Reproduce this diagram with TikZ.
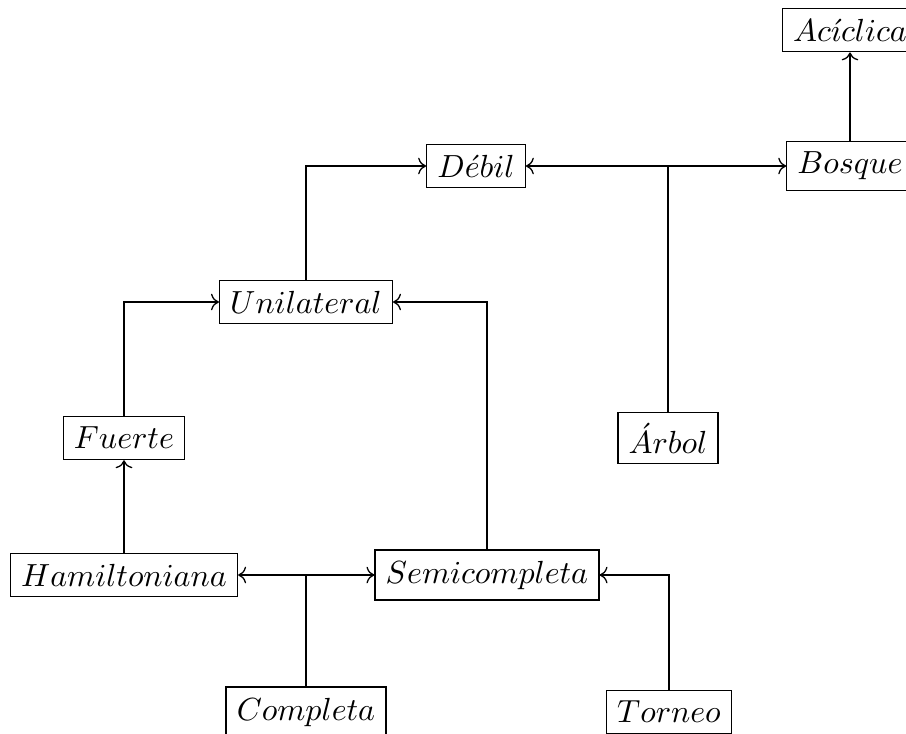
\documentclass[tikz,border=0pt]{standalone}
\usetikzlibrary{arrows.meta}
\begin{document}
\begin{tikzpicture}[x=0.3125pt, y=-0.3125pt,
    box/.style={draw, line width=0.4pt, font=\normalsize},
    conn/.style={->, line width=0.4pt}]
  \useasboundingbox (0,0) rectangle (906,734);
  \clip (0,0) rectangle (906,734);

  % graph classes
  \node[box] (aciclica)  at (850,30)  {$Ac\acute{\imath}clica$};
  \node[box] (bosque)    at (850,166) {$Bosque$};
  \node[box] (debil)     at (476,166) {$D\acute{e}bil$};
  \node[box] (arbol)     at (668,438) {$\acute{A}rbol$};
  \node[box] (unilateral) at (306,302) {$Unilateral$};
  \node[box] (fuerte)    at (124,438) {$Fuerte$};
  \node[box] (hamilt)    at (124,575) {$Hamiltoniana$};
  \node[box] (semicomp)  at (487,575) {$Semicompleta$};
  \node[box] (completa)  at (306,712) {$Completa$};
  \node[box] (torneo)    at (669,712) {$Torneo$};

  % inclusions
  \draw[conn] (bosque) -- (aciclica);
  \draw[conn] (arbol) |- (debil);
  \draw[conn] (arbol) |- (bosque);
  \draw[conn] (unilateral) |- (debil);
  \draw[conn] (fuerte) |- (unilateral);
  \draw[conn] (semicomp) |- (unilateral);
  \draw[conn] (hamilt) -- (fuerte);
  \draw[conn] (completa) |- (hamilt);
  \draw[conn] (completa) |- (semicomp);
  \draw[conn] (torneo) |- (semicomp);
\end{tikzpicture}
\end{document}
